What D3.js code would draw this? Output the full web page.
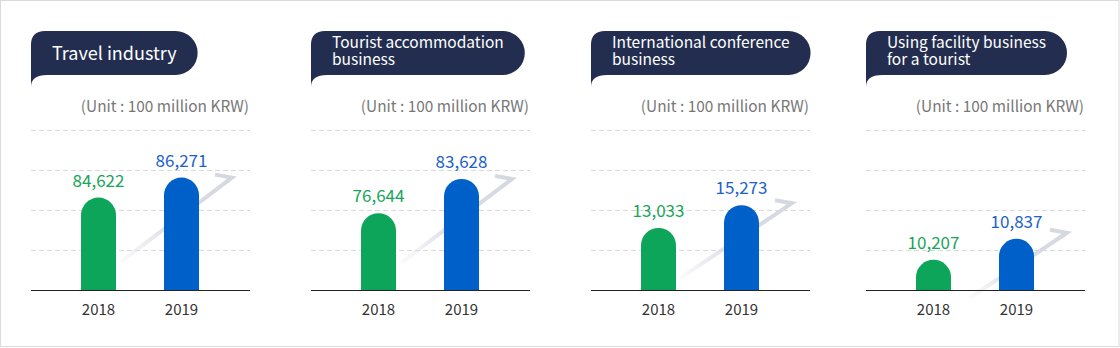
<!DOCTYPE html>
<html><head><meta charset="utf-8">
<script src="https://cdn.jsdelivr.net/npm/d3@7/dist/d3.min.js"></script>
<style>
html,body{margin:0;padding:0;background:#fff;}
svg{display:block;font-family:"Noto Sans CJK KR","Noto Sans",sans-serif;}
</style></head>
<body><svg id="chart" width="1120" height="348"></svg>
<script>
// ---- data ----
const titleLines = [
  ["Travel industry"],
  ["Tourist accommodation", "business"],
  ["International conference", "business"],
  ["Using facility business", "for a tourist"]
];
const years = ["2018", "2019"];
const values2018 = [84622, 76644, 13033, 10207];
const values2019 = [86271, 83628, 15273, 10837];
const unitLabel = "(Unit : 100 million KRW)";
const domainMin = [77000, 61000, 6900, 9300];
const domainMax = [90200, 93600, 22700, 14100];

// ---- layout ----
const svg = d3.select("#chart");
const panelLeft = [31, 311, 591, 866];
const panelW = 219;
const baseY = 290, topY = 130;
const barW = 35;
const colors = ["#0da55a", "#0060c9"];
const labelColors = ["#17a55b", "#1b62c9"];
const arrowSpan = [[111, 84], [111, 84], [112, 75], [97, 65]];
const arrowLift = [0, 0, 2, 6];

svg.append("rect").attr("x", 0.5).attr("y", 0.5).attr("width", 1118.5).attr("height", 346)
  .attr("fill", "none").attr("stroke", "#dadada");

const defs = svg.append("defs");

titleLines.forEach((lines, i) => {
  const g = svg.append("g").attr("transform", `translate(${panelLeft[i]},0)`);
  const y = d3.scaleLinear().domain([domainMin[i], domainMax[i]]).range([baseY, topY]);
  const x = d3.scalePoint().domain(years).range([67.5, 150.5]);
  const vals = [values2018[i], values2019[i]];

  // title bubble
  const bubble = g.append("path").attr("fill", "#222d4f");
  const tg = g.append("g");
  const single = lines.length === 1;
  const fs = single ? 18 : 15.5;
  const ys = single ? [60] : [48, 65];
  let maxW = 0;
  lines.forEach((l, k) => {
    const t = tg.append("text").attr("x", 21).attr("y", ys[k]).attr("fill", "#fff")
      .attr("font-size", fs).text(l);
    maxW = Math.max(maxW, t.node().getComputedTextLength());
  });
  const L = 0, T = 31, B = 75, R = 21 + maxW + 21, r = 22, tl = 14;
  bubble.attr("d", `M${L},${B + 12} V${T + tl} Q${L},${T} ${L + tl},${T} H${R - r} A${r},${r} 0 0 1 ${R - r},${B} H${L + 16} Q${L},${B} ${L},${B + 12} Z`);

  // unit
  g.append("text").attr("x", panelW - 1).attr("y", 112).attr("text-anchor", "end")
    .attr("font-size", 15.4).attr("fill", "#777").text(unitLabel);

  // grid
  const gridVals = d3.range(1, 5).map(k => domainMin[i] + k * (domainMax[i] - domainMin[i]) / 4);
  g.selectAll(".grid").data(gridVals).enter().append("line")
    .attr("x1", 0).attr("x2", panelW)
    .attr("y1", d => Math.round(y(d)) + 0.5).attr("y2", d => Math.round(y(d)) + 0.5)
    .attr("stroke", "#d8d8d8").attr("stroke-dasharray", "5,3");

  // arrow
  const gid = "ag" + i;
  const tipX = x("2019") + barW / 2 + 33;
  const tipY = y(vals[1]) - arrowLift[i];
  const sX = tipX - arrowSpan[i][0], sY = tipY + arrowSpan[i][1];
  const grad = defs.append("linearGradient").attr("id", gid).attr("gradientUnits", "userSpaceOnUse")
    .attr("x1", sX).attr("y1", sY).attr("x2", tipX).attr("y2", tipY);
  grad.append("stop").attr("offset", 0).attr("stop-color", "#dfe1e8").attr("stop-opacity", 0.15);
  grad.append("stop").attr("offset", 0.45).attr("stop-color", "#dadde5").attr("stop-opacity", 1);
  grad.append("stop").attr("offset", 1).attr("stop-color", "#d5d8e1").attr("stop-opacity", 1);
  g.append("path").attr("d", `M${sX},${sY} L${tipX},${tipY} L${tipX - 17},${tipY - 3}`)
    .attr("fill", "none").attr("stroke", `url(#${gid})`).attr("stroke-width", 4)
    .attr("stroke-linejoin", "miter");

  // bars
  years.forEach((yr, k) => {
    const cx = x(yr), top = y(vals[k]), rr = barW / 2;
    g.append("path").attr("fill", colors[k])
      .attr("d", `M${cx - rr},${baseY} V${top + rr} A${rr},${rr} 0 0 1 ${cx + rr},${top + rr} V${baseY} Z`);
    g.append("text").attr("x", cx).attr("y", top - 11).attr("text-anchor", "middle")
      .attr("font-size", 17).attr("fill", labelColors[k]).text(d3.format(",")(vals[k]));
    g.append("text").attr("x", cx).attr("y", 315).attr("text-anchor", "middle")
      .attr("font-size", 15).attr("fill", "#333").text(yr);
  });

  // baseline
  g.append("line").attr("x1", 0).attr("x2", panelW).attr("y1", baseY + 0.5).attr("y2", baseY + 0.5)
    .attr("stroke", "#222").attr("stroke-width", 1.2);
});
</script></body></html>
